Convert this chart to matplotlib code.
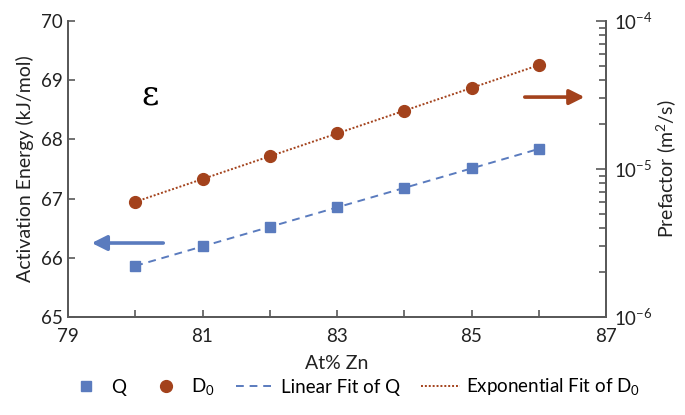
import matplotlib
matplotlib.use("Agg")
import matplotlib.pyplot as plt
import numpy as np
from matplotlib.ticker import FixedLocator, FuncFormatter, LogLocator, NullFormatter

at_zn = [80, 81, 82, 83, 84, 85, 86]
q_energy = [65.86, 66.20, 66.52, 66.85, 67.18, 67.51, 67.84]
d0_prefactor = [6.0e-6, 8.55e-6, 1.22e-5, 1.74e-5, 2.48e-5, 3.51e-5, 5.05e-5]
x_ticks = [79, 81, 83, 85, 87]
x_minor = [80, 82, 84, 86]
y_ticks = [65, 66, 67, 68, 69, 70]

BLUE = "#5A7BBE"
BROWN = "#A3421C"
SPINE = "#595959"
TEXT = "#222222"
FONT = ["Lato", "DejaVu Sans"]

plt.rcParams["font.family"] = FONT
plt.rcParams["mathtext.fontset"] = "custom"
plt.rcParams["mathtext.rm"] = "Lato"

fig = plt.figure(figsize=(6.85, 4.15), dpi=100)
ax = fig.add_axes([0.0993, 0.2361, 0.7854, 0.7133])
ax2 = ax.twinx()

x = np.array(at_zn, dtype=float)

# linear fit of Q, exponential fit of D0
q_coef = np.polyfit(x, q_energy, 1)
d_coef = np.polyfit(x, np.log(d0_prefactor), 1)

lin_line, = ax.plot(x, np.polyval(q_coef, x), ls=(0, (4, 3)), color=BLUE, lw=1.4,
                    label="Linear Fit of Q", zorder=2)
q_pts, = ax.plot(x, q_energy, ls="none", marker="s", ms=6.5, color=BLUE,
                 label="Q", zorder=3)
exp_line, = ax2.plot(x, np.exp(np.polyval(d_coef, x)), ls=(0, (1, 1)), color=BROWN,
                     lw=1.4, label="Exponential Fit of D$_0$", zorder=2)
d_pts, = ax2.plot(x, d0_prefactor, ls="none", marker="o", ms=8.5, color=BROWN,
                  label="D$_0$", zorder=3)

ax.set_xlim(79, 87)
ax.set_ylim(65, 70)
ax2.set_yscale("log")
ax2.set_ylim(1e-6, 1e-4)

ax.xaxis.set_major_locator(FixedLocator(x_ticks))
ax.xaxis.set_minor_locator(FixedLocator(x_minor))
ax.yaxis.set_major_locator(FixedLocator(y_ticks))
ax2.yaxis.set_major_locator(LogLocator(base=10, numticks=5))
ax2.yaxis.set_minor_locator(LogLocator(base=10, subs=np.arange(2, 10), numticks=20))
ax2.yaxis.set_minor_formatter(NullFormatter())
ax2.yaxis.set_major_formatter(FuncFormatter(
    lambda v, p: r"$\mathregular{10^{%d}}$" % round(np.log10(v))))

for a in (ax, ax2):
    for s in a.spines.values():
        s.set_color(SPINE)
        s.set_linewidth(1.3)
ax.spines["top"].set_visible(False)
ax2.spines["top"].set_visible(False)

ax.tick_params(axis="both", which="both", direction="in", length=5, width=1.2,
               color=SPINE, labelsize=13.5, labelcolor=TEXT)
ax.tick_params(axis="x", pad=8)
ax2.tick_params(axis="y", which="major", direction="in", length=7, width=1.2,
                color=SPINE, labelsize=13.5, labelcolor=TEXT, pad=6)
ax2.tick_params(axis="y", which="minor", direction="in", length=5, width=1.2,
                color=SPINE)

ax.set_xlabel("At% Zn", fontsize=14, color=TEXT, labelpad=7)
ax.set_ylabel("Activation Energy (kJ/mol)", fontsize=14, color=TEXT, labelpad=5)
ax2.set_ylabel("Prefactor (m$^2$/s)", fontsize=14, color=TEXT, labelpad=1)

ax.text(0.152, 0.75, "\u03b5", transform=ax.transAxes, fontsize=24,
        family="DejaVu Serif", ha="center", va="center")

ax.annotate("", xy=(0.044, 0.25), xytext=(0.177, 0.25), xycoords="axes fraction",
            arrowprops=dict(arrowstyle="-|>,head_length=0.9,head_width=0.45",
                            color=BLUE, lw=2.6, shrinkA=0, shrinkB=0))
ax.annotate("", xy=(0.96, 0.743), xytext=(0.849, 0.743), xycoords="axes fraction",
            arrowprops=dict(arrowstyle="-|>,head_length=0.9,head_width=0.45",
                            color=BROWN, lw=2.6, shrinkA=0, shrinkB=0))

fig.legend(handles=[q_pts, d_pts, lin_line, exp_line], loc="lower center",
           bbox_to_anchor=(0.515, 0.0), ncol=4, frameon=False, fontsize=13.5,
           handlelength=2.1, columnspacing=1.1, handletextpad=0.3)

fig.savefig("out.png", dpi=100)
